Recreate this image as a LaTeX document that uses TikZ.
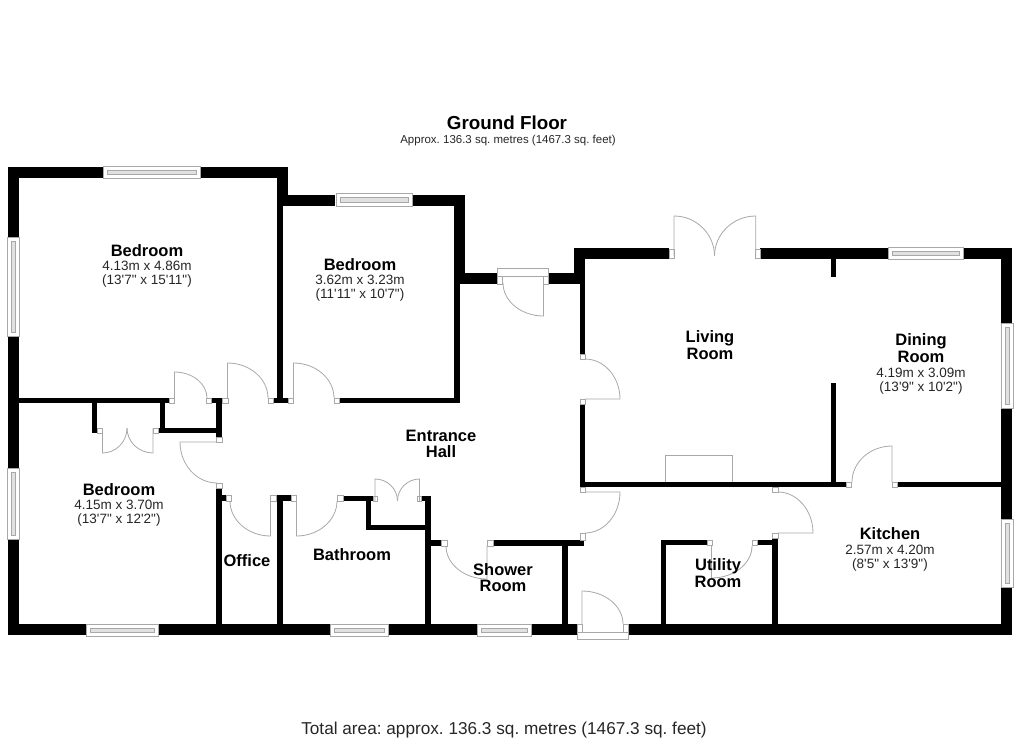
\documentclass[tikz,border=0pt]{standalone}
\usepackage{fontspec}
\newfontfamily\planfont{Liberation Sans}
\usetikzlibrary{calc}
\definecolor{planline}{gray}{.66}
\newcommand\rmname[1]{{\color{black}\fontsize{16.5}{15}\bfseries\selectfont #1}}
\tikzstyle{wall}=[fill=black]
\tikzstyle{planedge}=[draw=planline,line width=.8pt]
\tikzstyle{jamb}=[planedge,fill=white]
\tikzstyle{glass}=[planedge,fill=planline!35]
\tikzstyle{room}=[font=\planfont\frenchspacing\fontsize{13.5}{14.4}\selectfont,align=center,inner sep=0pt,text=black!85]
\begin{document}
\begin{tikzpicture}[x=1pt,y=-1pt]
    \useasboundingbox (0,0) rectangle (1020,742);
    \foreach \xa/\ya/\xb/\yb in {8/167/103/178,200/167/288/178,8/167/19/237,8/336/19/468,8/539/19/635,
      277/167/288/206,288/195/335/206,277/206/283/403,273/398/288/403,412/195/465/206,454/206/465/284,
      465/273/497/284,454/284/459.5/403,339/398/459.5/403,548/273/580/284,574/248/585/284,585/248/669/259,
      580/284/585/354,580/404/585/487,585/482/846/487,760/248/888/259,963/248/1012/259,1001/259/1012/323,
      1001/408/1012/519,1001/587/1012/635,831/259/836/277,831/383/836/482,897/482/1001/487,
      19/398/169/403,92/403/97/433,159.5/403/165/433,158/428/222/433,211/398/222/403,216/403/222/437,
      216/488/222/624,222/495/226/501,276/495/291/501,277/501/283/624,
      8/624/86/635,158/624/330/635,388/624/477/635,531/624/577/635,628/624/1012/635,
      343/496/373/501,366/501/371/530,366/525/431/530,421/496/431/501,425/501/431/624,431/540/441/546,
      493/540/584/546,562/546/568/624,661/540/707/545,661/545/666/624,757/540/778/545,772/538/778/624}
      \fill[wall] (\xa,\ya) rectangle (\xb,\yb);
    \foreach \xa/\ya/\xb/\yb in {103/166/200/178,336/193/412/206,888/247/963/259,86/624/158/636,330/624/388/636,
      477/624/531/636,7/237/19/336,7/468/19/539,1001/323/1013/408,1001/519/1013/587}{
      \draw[jamb] (\xa,\ya) rectangle (\xb,\yb);
      \draw[glass] ({\xa+4},{\ya+4}) rectangle ({\xb-4},{\yb-4});
    }
    \foreach \xa/\ya/\xb/\yb in {169/398/174/403,206/398/211/403,222/398/228/403,268/398/273/403,288/398/293/403,
      334/398/339/403,97/428/102/433,153/428/158/433,216/437/222/442,216/483/222/488,226/495/231/501,
      270/495/276/501,291/495/296/501,337/495/343/501,373/496/377/501,417/496/421/501,441/540/447/546,
      487/540/493/546,580/533/585/540,580/487/585/492,497/276/502/284,543/276/548/284,580/354/585/359,
      580/399/585/404,669/249/674/258,755/249/760/258,846/482/851/487,892/482/897/487,772/487/778/492,
      772/533/778/538,707/540/712/545,752/540/757/545,577/624/582/632,623/624/628/632,
      497/268/548/276,577/632/628/639}
      \draw[jamb] (\xa,\ya) rectangle (\xb,\yb);
    \draw[planedge] (665,482) |- (732,455) -- (732,482);
    \foreach \hx/\hy/\lx/\ly/\ex/\ey in {174.5/398/174.5/372/207/398,227.5/398/227.5/363/268/398,293.5/398/293.5/363/334/398,
      102.5/428/102.5/453/127/428,153/428/153/453/127/428,217/442/180/442/217/483,270.5/501/270.5/536/230/501,
      296.5/501/296.5/536/337/501,375/501/375/479/397.5/501,419.5/501/419.5/479/397.5/501,487/546/487/579/446/546,
      543.5/283/543.5/316/503/283,585/399/620/399/585/359,674/256/674/216/714.5/256,755.7/256/755.7/216/714.5/256,
      585/492/620/492/585/533,582/624/582/591/623/624,778/533/813/533/778/492,892/482/892/446/852/482,
      711.5/546/711.5/578/752/546}
      \draw[planedge] (\hx,\hy) -- (\lx,\ly) .. controls ($(\lx,\ly)+.55*(\ex,\ey)-.55*(\hx,\hy)$) and ($(\ex,\ey)+.55*(\lx,\ly)-.55*(\hx,\hy)$) .. (\ex,\ey);
    \node[room,text=black] (title) at (507,123) {{\fontsize{18.8}{20}\bfseries\selectfont Ground Floor}};
    \node[room,font=\planfont\frenchspacing\fontsize{11.5}{13}\selectfont] (subtitle) at (508,141) {Approx. 136.3 sq. metres (1467.3 sq. feet)};
    \node[room,font=\planfont\frenchspacing\fontsize{17.2}{19}\selectfont] (total) at (504,730) {Total area: approx. 136.3 sq. metres (1467.3 sq. feet)};
    \node[room] (bedroomA) at (147,266) {\rmname{Bedroom}\\4.13m x 4.86m\\(13'7" x 15'11")};
    \node[room] (bedroomB) at (360,280) {\rmname{Bedroom}\\3.62m x 3.23m\\(11'11" x 10'7")};
    \node[room] (bedroomC) at (119,505) {\rmname{Bedroom}\\4.15m x 3.70m\\(13'7" x 12'2")};
    \node[room] (hall) at (441,443.5) {\rmname{Entrance}\\[1.5pt]\rmname{Hall}};
    \node[room] (office) at (247,561) {\rmname{Office}};
    \node[room] (bathroom) at (352,555) {\rmname{Bathroom}};
    \node[room] (shower) at (503,577.5) {\rmname{Shower}\\[1.5pt]\rmname{Room}};
    \node[room] (utility) at (718,573) {\rmname{Utility}\\[1.5pt]\rmname{Room}};
    \node[room] (living) at (710,345) {\rmname{Living}\\[1.5pt]\rmname{Room}};
    \node[room] (dining) at (921,364) {\rmname{Dining}\\[1.5pt]\rmname{Room}\\4.19m x 3.09m\\(13'9" x 10'2")};
    \node[room] (kitchen) at (890,549.5) {\rmname{Kitchen}\\2.57m x 4.20m\\(8'5" x 13'9")};
  \end{tikzpicture}
\end{document}
